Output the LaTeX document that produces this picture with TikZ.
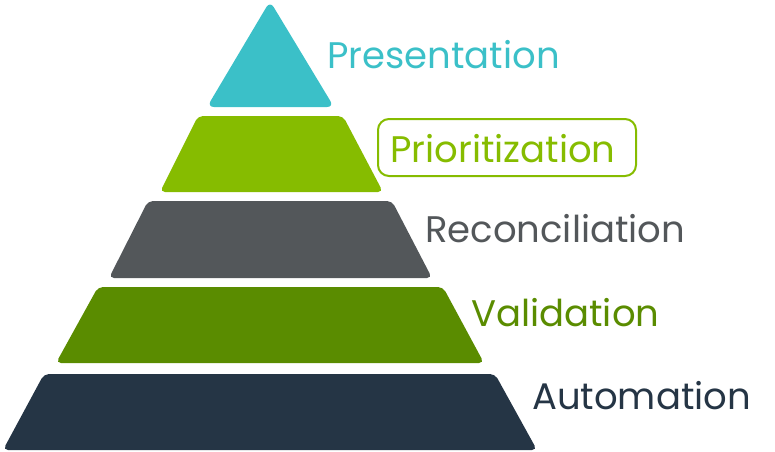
\documentclass[tikz,border=0pt]{standalone}
\usepackage{fontspec}
\setmainfont{Poppins}
\definecolor{teal}{HTML}{3BC0C8}
\definecolor{lime}{HTML}{86BC00}
\definecolor{slate}{HTML}{53575A}
\definecolor{leaf}{HTML}{5A8C00}
\definecolor{navy}{HTML}{253545}
\begin{document}
\begin{tikzpicture}[
          x=1pt, y=-1pt,
          tier/.style={rounded corners=5pt},
          every node/.style={anchor=base west, inner sep=0pt, font=\fontsize{37}{42}\selectfont}
        ]
        \useasboundingbox (0,0) rectangle (775,451);
        % 1
        \fill[teal, rounded corners=7pt] (207,107) -- (270,1) -- (334,107) -- cycle;
        % 2
        \fill[lime, tier] (160,192) -- (198,116) -- (343,116) -- (383,192) -- cycle;
        % 3
        \fill[slate, tier] (109,278) -- (148,201) -- (392,201) -- (432,278) -- cycle;
        % 4
        \fill[leaf, tier] (56,363) -- (98,287) -- (443,287) -- (484,363) -- cycle;
        % 5
        \fill[navy, tier] (3,450) -- (44,374) -- (495,374) -- (537,450) -- cycle;
        % labels
        \node[text=teal] (presentation) at (327,68) {Presentation};
        \node[text=lime] (prioritization) at (390,162) {Prioritization};
        \draw[lime, line width=2pt, rounded corners=11pt] (378,119) rectangle (636,176);
        \node[text=slate] (reconciliation) at (425,242) {Reconciliation};
        \node[text=leaf] (validation) at (471,326) {Validation};
        \node[text=navy] (automation) at (532,409) {Automation};
      \end{tikzpicture}
\end{document}
